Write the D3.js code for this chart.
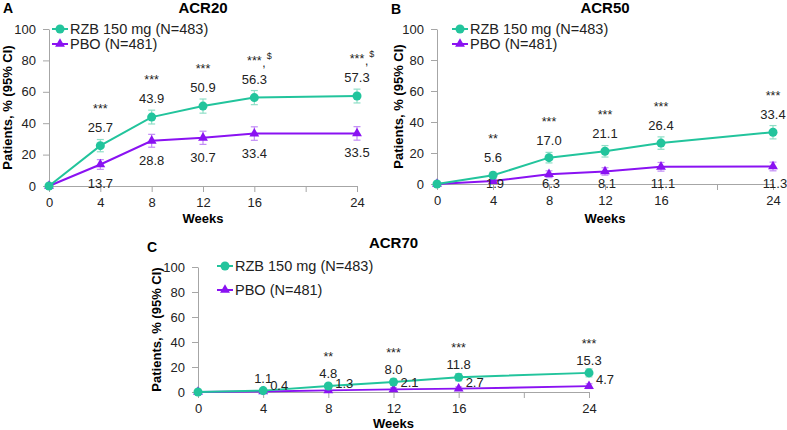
<!DOCTYPE html>
<meta charset="utf-8">
<style>
body{ margin:0; background:white; }
svg{ font-family: "Liberation Sans", Arial, sans-serif; }
.axis path, .axis line{ stroke:#a6a6a6; }
.axis text{ font-size:13px; fill:#222; }
</style>
<svg id="chart" width="787" height="430"></svg>
<script src="https://cdn.jsdelivr.net/npm/d3@7"></script>
<script>

var weeks = [0, 4, 8, 12, 16, 24]
var xTicks = [0, 4, 8, 12, 16, 20, 24]
var xTickLabels = ['0', '4', '8', '12', '16', '', '24']
var yTicks = [0, 20, 40, 60, 80, 100]

var rzbName = 'RZB 150 mg (N=483)'
var pboName = 'PBO (N=481)'

// ACR20
var acr20Rzb   = [0, 25.7, 43.9, 50.9, 56.3, 57.3]
var acr20RzbLo = [0, 21.8, 39.5, 46.4, 51.8, 52.9]
var acr20RzbHi = [0, 29.6, 48.3, 55.4, 60.8, 61.7]
var acr20Pbo   = [0, 13.7, 28.8, 30.7, 33.4, 33.5]
var acr20PboLo = [0, 10.6, 24.7, 26.5, 29.1, 29.2]
var acr20PboHi = [0, 16.8, 32.9, 34.9, 37.7, 37.8]
var acr20Stars = ['', '***', '***', '***', '***,$', '***,$']

// ACR50
var acr50Rzb   = [0, 5.6, 17.0, 21.1, 26.4, 33.4]
var acr50RzbLo = [0, 3.5, 13.6, 17.4, 22.4, 29.1]
var acr50RzbHi = [0, 7.7, 20.4, 24.8, 30.4, 37.7]
var acr50Pbo   = [0, 1.9, 6.3, 8.1, 11.1, 11.3]
var acr50PboLo = [0, 0.7, 4.1, 5.7, 8.3, 8.5]
var acr50PboHi = [0, 3.1, 8.5, 10.5, 13.9, 14.1]
var acr50Stars = ['', '**', '***', '***', '***', '***']

// ACR70
var acr70Rzb   = [0, 1.1, 4.8, 8.0, 11.8, 15.3]
var acr70RzbLo = [0, 0.2, 2.9, 5.6, 8.9, 12.1]
var acr70RzbHi = [0, 2.0, 6.7, 10.4, 14.7, 18.5]
var acr70Pbo   = [0, 0.4, 1.3, 2.1, 2.7, 4.7]
var acr70PboLo = [0, 0.0, 0.3, 0.8, 1.3, 2.8]
var acr70PboHi = [0, 0.8, 2.3, 3.4, 4.1, 6.6]
var acr70Stars = ['', '', '**', '***', '***', '***']

var teal = '#22c49c', tealLight = '#8fdfc7',
    purple = '#8a12f2', purpleLight = '#c28cf6'

var svg = d3.select('#chart')

function toRows(v, lo, hi){
  return weeks.map(function(w, i){ return {w: w, v: v[i], lo: lo[i], hi: hi[i]} })
}

function panel(o){
  var x = d3.scaleLinear().domain([0, 24]).range([o.left, o.right])
  var y = d3.scaleLinear().domain([0, 100]).range([o.bottom, o.top])
  var g = svg.append('g')

  g.append('g').attr('class', 'axis')
      .attr('transform', 'translate(0,' + o.bottom + ')')
      .call(d3.axisBottom(x).tickValues(xTicks).tickSize(6).tickSizeOuter(0).tickPadding(6)
        .tickFormat(function(d, i){ return xTickLabels[i] }))
  g.append('g').attr('class', 'axis')
      .attr('transform', 'translate(' + o.left + ',0)')
      .call(d3.axisLeft(y).tickValues(yTicks).tickSize(6).tickSizeOuter(0).tickPadding(7))

  // titles
  g.append('text').attr('x', (o.left + o.right) / 2).attr('y', o.titleY)
      .attr('text-anchor', 'middle').style('font-size', '15px').style('font-weight', 'bold')
      .text(o.title)
  g.append('text').attr('x', o.letterX).attr('y', o.letterY)
      .style('font-size', '14px').style('font-weight', 'bold').text(o.letter)
  g.append('text')
      .attr('transform', 'translate(' + o.ylabX + ',' + (o.top + o.bottom) / 2 + ') rotate(-90)')
      .attr('text-anchor', 'middle').attr('dy', '0.35em')
      .style('font-size', '13px').style('font-weight', 'bold')
      .text('Patients, % (95% CI)')
  g.append('text').attr('x', (o.left + o.right) / 2).attr('y', o.weeksY)
      .attr('text-anchor', 'middle').style('font-size', '13px').style('font-weight', 'bold')
      .text('Weeks')

  var series = [
    {rows: toRows(o.pbo, o.pboLo, o.pboHi), c: purple, cl: purpleLight, tri: true},
    {rows: toRows(o.rzb, o.rzbLo, o.rzbHi), c: teal, cl: tealLight, tri: false}
  ]

  var line = d3.line().x(function(d){ return x(d.w) }).y(function(d){ return y(d.v) })

  series.forEach(function(s){
    var eb = g.append('g').selectAll('g').data(s.rows.slice(1)).enter().append('g')
        .attr('stroke', s.cl).attr('stroke-width', 1.2)
    eb.append('line').attr('x1', function(d){ return x(d.w) }).attr('x2', function(d){ return x(d.w) })
        .attr('y1', function(d){ return y(d.lo) }).attr('y2', function(d){ return y(d.hi) })
    eb.append('line').attr('x1', function(d){ return x(d.w) - 3.5 }).attr('x2', function(d){ return x(d.w) + 3.5 })
        .attr('y1', function(d){ return y(d.lo) }).attr('y2', function(d){ return y(d.lo) })
    eb.append('line').attr('x1', function(d){ return x(d.w) - 3.5 }).attr('x2', function(d){ return x(d.w) + 3.5 })
        .attr('y1', function(d){ return y(d.hi) }).attr('y2', function(d){ return y(d.hi) })
  })

  series.forEach(function(s){
    g.append('path').datum(s.rows).attr('d', line)
        .attr('fill', 'none').attr('stroke', s.c).attr('stroke-width', 2)
    var sym = d3.symbol().type(s.tri ? d3.symbolTriangle : d3.symbolCircle).size(s.tri ? 42 : 64)
    g.append('g').selectAll('path').data(s.rows).enter().append('path')
        .attr('transform', function(d){ return 'translate(' + x(d.w) + ',' + y(d.v) + ')' })
        .attr('d', sym).attr('fill', s.c)
  })

  // value labels
  var rz = series[1].rows.slice(1), pb = series[0].rows.slice(1)
  g.append('g').selectAll('text').data(rz).enter().append('text')
      .attr('x', function(d){ return x(d.w) })
      .attr('y', function(d){ return y(d.v) + o.rzbDy })
      .attr('text-anchor', 'middle').style('font-size', '13px').attr('fill', '#222')
      .text(function(d){ return d.v.toFixed(1) })
  g.append('g').selectAll('text').data(pb).enter().append('text')
      .attr('x', function(d){ return x(d.w) + o.pboDx })
      .attr('y', function(d){ return o.pboFixed ? y(0) + o.pboDy : y(d.v) + o.pboDy })
      .attr('text-anchor', 'middle').style('font-size', '13px').attr('fill', '#222')
      .text(function(d){ return d.v.toFixed(1) })

  // significance stars
  rz.forEach(function(d, i){
    var s = o.stars[i + 1]
    if (!s) return
    var parts = s.split(',')
    var sy = y(d.v) + o.rzbDy + o.starDy
    g.append('text').attr('x', x(d.w)).attr('y', sy).attr('text-anchor', 'middle')
        .style('font-size', '12.5px').attr('fill', '#222').text(parts[0])
    if (parts.length > 1) {
      var t = g.append('text').attr('x', x(d.w) + 8).attr('y', sy)
          .style('font-size', '12px').attr('fill', '#222')
      t.append('tspan').attr('dy', 2).text(',')
      t.append('tspan').attr('dx', 1).attr('dy', -8).style('font-size', '9px').text('$')
    }
  })

  // legend
  var lg = [{name: rzbName, c: teal, tri: false}, {name: pboName, c: purple, tri: true}]
  lg.forEach(function(l, i){
    var ly = o.legY + i * o.legGap
    g.append('line').attr('x1', o.legX).attr('x2', o.legX + 16).attr('y1', ly).attr('y2', ly)
        .attr('stroke', l.c).attr('stroke-width', 2)
    g.append('path').attr('transform', 'translate(' + (o.legX + 8) + ',' + ly + ')')
        .attr('d', d3.symbol().type(l.tri ? d3.symbolTriangle : d3.symbolCircle).size(l.tri ? 42 : 64))
        .attr('fill', l.c)
    g.append('text').attr('x', o.legX + 18).attr('y', ly).attr('dy', '0.35em')
        .style('font-size', '14.5px').attr('fill', '#222').text(l.name)
  })
}

panel({title: 'ACR20', letter: 'A', left: 49, right: 357, top: 29, bottom: 186,
  titleY: 13, letterX: 3, letterY: 13, ylabX: 7, weeksY: 223,
  rzb: acr20Rzb, rzbLo: acr20RzbLo, rzbHi: acr20RzbHi,
  pbo: acr20Pbo, pboLo: acr20PboLo, pboHi: acr20PboHi, stars: acr20Stars,
  rzbDy: -14, starDy: -19, pboDx: 0, pboDy: 24, pboFixed: false,
  legX: 52, legY: 29, legGap: 15})

panel({title: 'ACR50', letter: 'B', left: 437, right: 773, top: 29, bottom: 184,
  titleY: 13, letterX: 391, letterY: 14, ylabX: 398, weeksY: 223,
  rzb: acr50Rzb, rzbLo: acr50RzbLo, rzbHi: acr50RzbHi,
  pbo: acr50Pbo, pboLo: acr50PboLo, pboHi: acr50PboHi, stars: acr50Stars,
  rzbDy: -13, starDy: -19, pboDx: 2, pboDy: 4, pboFixed: true,
  legX: 452, legY: 29, legGap: 15})

panel({title: 'ACR70', letter: 'C', left: 198, right: 589, top: 267, bottom: 392,
  titleY: 248, letterX: 147, letterY: 252, ylabX: 156, weeksY: 428,
  rzb: acr70Rzb, rzbLo: acr70RzbLo, rzbHi: acr70RzbHi,
  pbo: acr70Pbo, pboLo: acr70PboLo, pboHi: acr70PboHi, stars: acr70Stars,
  rzbDy: -8, starDy: -17, pboDx: 16, pboDy: -2, pboFixed: false,
  legX: 217, legY: 266, legGap: 24})

</script>
